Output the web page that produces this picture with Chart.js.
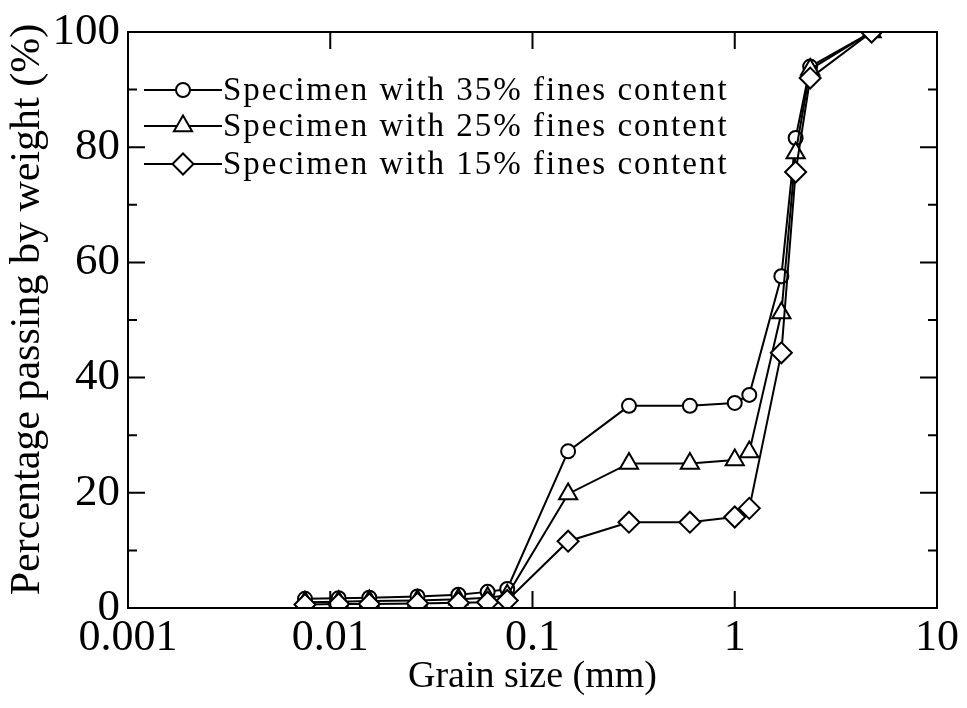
<!DOCTYPE html>
<html lang="en">
<head>
    <meta charset="UTF-8">
    <title>Grain size distribution</title>
    <script src="https://cdn.jsdelivr.net/npm/chart.js@4.4.1/dist/chart.umd.min.js"></script>
    <style>
        body {
            margin: 0;
            padding: 0;
            background: #fff;
        }
        .wrap {
            width: 967px;
            height: 708px;
        }
    </style>
</head>
<body>
    <div class="wrap">
        <canvas id="gsd" width="967" height="708"></canvas>
    </div>

    <script>
        // grain sizes (mm), hydrometer part then sieves
        const grainSizes = [0.0075, 0.011, 0.0156, 0.027, 0.043, 0.06, 0.075, 0.15, 0.3, 0.6, 1.0, 1.18, 1.7, 2.0, 2.36, 4.75];
        const fines35 = [1.6, 1.7, 1.8, 2.0, 2.3, 2.8, 3.3, 27.2, 35.1, 35.1, 35.6, 37.0, 57.6, 81.6, 94.0, 100];
        const fines25 = [1.0, 1.1, 1.2, 1.3, 1.5, 1.8, 2.2, 19.8, 25.1, 25.1, 25.7, 27.1, 51.2, 79.0, 93.5, 100];
        const fines15 = [0.6, 0.7, 0.7, 0.8, 0.9, 1.0, 1.3, 11.6, 14.9, 14.9, 15.8, 17.3, 44.3, 75.7, 92.0, 100];

        const seriesLabels = [
            'Specimen with 35% fines content',
            'Specimen with 25% fines content',
            'Specimen with 15% fines content'
        ];
        const xTicks = [0.001, 0.01, 0.1, 1, 10];
        const xTickLabels = ['0.001', '0.01', '0.1', '1', '10'];
        const yMajor = [0, 20, 40, 60, 80, 100];
        const yMinor = [10, 30, 50, 70, 90];

        const serif = "'Liberation Serif', 'Times New Roman', serif";

        function toPoints(vals) {
            return vals.map((v, i) => ({ x: grainSizes[i], y: v }));
        }

        const markers = [
            { pointStyle: 'circle', radius: 7 },
            { pointStyle: 'triangle', radius: 10.5 },
            { pointStyle: 'rectRot', radius: 10.5 }
        ];

        function makeSet(label, vals, m, order) {
            return {
                label: label,
                data: toPoints(vals),
                borderColor: '#000',
                borderWidth: 2,
                backgroundColor: '#fff',
                pointStyle: m.pointStyle,
                pointRadius: m.radius,
                pointBorderWidth: 2,
                pointBackgroundColor: '#fff',
                pointBorderColor: '#000',
                tension: 0,
                order: order
            };
        }

        // frame + inward ticks on all four sides
        const frameTicks = {
            id: 'frameTicks',
            afterDraw(chart) {
                const { ctx, chartArea: a, scales } = chart;
                ctx.save();
                ctx.strokeStyle = '#000';
                ctx.lineWidth = 2;
                ctx.strokeRect(a.left, a.top, a.right - a.left, a.bottom - a.top);
                ctx.beginPath();
                xTicks.forEach(v => {
                    const px = scales.x.getPixelForValue(v);
                    ctx.moveTo(px, a.bottom); ctx.lineTo(px, a.bottom - 17);
                    ctx.moveTo(px, a.top); ctx.lineTo(px, a.top + 17);
                });
                yMajor.forEach(v => {
                    const py = scales.y.getPixelForValue(v);
                    ctx.moveTo(a.left, py); ctx.lineTo(a.left + 17, py);
                    ctx.moveTo(a.right, py); ctx.lineTo(a.right - 17, py);
                });
                yMinor.forEach(v => {
                    const py = scales.y.getPixelForValue(v);
                    ctx.moveTo(a.left, py); ctx.lineTo(a.left + 9, py);
                    ctx.moveTo(a.right, py); ctx.lineTo(a.right - 9, py);
                });
                ctx.stroke();
                ctx.restore();
            }
        };

        // legend: line with marker in the middle, then text
        const lineLegend = {
            id: 'lineLegend',
            afterDraw(chart) {
                const { ctx, chartArea: a } = chart;
                const x0 = a.left + 16, x1 = a.left + 94, mx = a.left + 55;
                const rows = [a.top + 58, a.top + 94, a.top + 132];
                ctx.save();
                ctx.font = '33px ' + serif;
                ctx.letterSpacing = '2px';
                ctx.textBaseline = 'middle';
                seriesLabels.forEach((lab, i) => {
                    const y = rows[i];
                    ctx.strokeStyle = '#000';
                    ctx.lineWidth = 2;
                    ctx.beginPath();
                    ctx.moveTo(x0, y);
                    ctx.lineTo(x1, y);
                    ctx.stroke();
                    ctx.fillStyle = '#fff';
                    Chart.helpers.drawPoint(ctx, {
                        pointStyle: markers[i].pointStyle,
                        radius: markers[i].radius,
                        borderWidth: 2
                    }, mx, y);
                    ctx.fillStyle = '#000';
                    ctx.fillText(lab, x1 + 1, y + 1);
                });
                ctx.restore();
            }
        };

        new Chart(document.getElementById('gsd'), {
            type: 'line',
            data: {
                datasets: [
                    makeSet(seriesLabels[0], fines35, markers[0], 3),
                    makeSet(seriesLabels[1], fines25, markers[1], 2),
                    makeSet(seriesLabels[2], fines15, markers[2], 1)
                ]
            },
            options: {
                responsive: false,
                animation: false,
                layout: { padding: { left: 0, right: 30, top: 32, bottom: 0 } },
                plugins: {
                    legend: { display: false },
                    tooltip: { enabled: false }
                },
                scales: {
                    x: {
                        type: 'logarithmic',
                        min: 0.001,
                        max: 10,
                        afterBuildTicks: scale => {
                            scale.ticks = xTicks.map(v => ({ value: v }));
                        },
                        afterFit: scale => { scale.height = 100; },
                        grid: { display: false, drawTicks: false },
                        border: { display: false },
                        ticks: {
                            autoSkip: false,
                            maxRotation: 0,
                            padding: 4,
                            color: '#000',
                            font: { family: serif, size: 44 },
                            callback: (v, i) => xTickLabels[i]
                        },
                        title: {
                            display: true,
                            text: 'Grain size (mm)',
                            color: '#000',
                            font: { family: serif, size: 38, lineHeight: 1.2 },
                            padding: { top: 0, bottom: 8 }
                        }
                    },
                    y: {
                        min: 0,
                        max: 100,
                        afterBuildTicks: scale => {
                            scale.ticks = yMajor.map(v => ({ value: v }));
                        },
                        afterFit: scale => { scale.width = 128; },
                        grid: { display: false, drawTicks: false },
                        border: { display: false },
                        ticks: {
                            padding: 8,
                            color: '#000',
                            font: { family: serif, size: 45, lineHeight: 1 }
                        },
                        title: {
                            display: true,
                            text: '  Percentage passing by weight (%)',
                            color: '#000',
                            font: { family: serif, size: 42, lineHeight: 1.2 },
                            padding: { top: 3, bottom: 0 }
                        }
                    }
                }
            },
            plugins: [frameTicks, lineLegend]
        });
    </script>
</body>
</html>
